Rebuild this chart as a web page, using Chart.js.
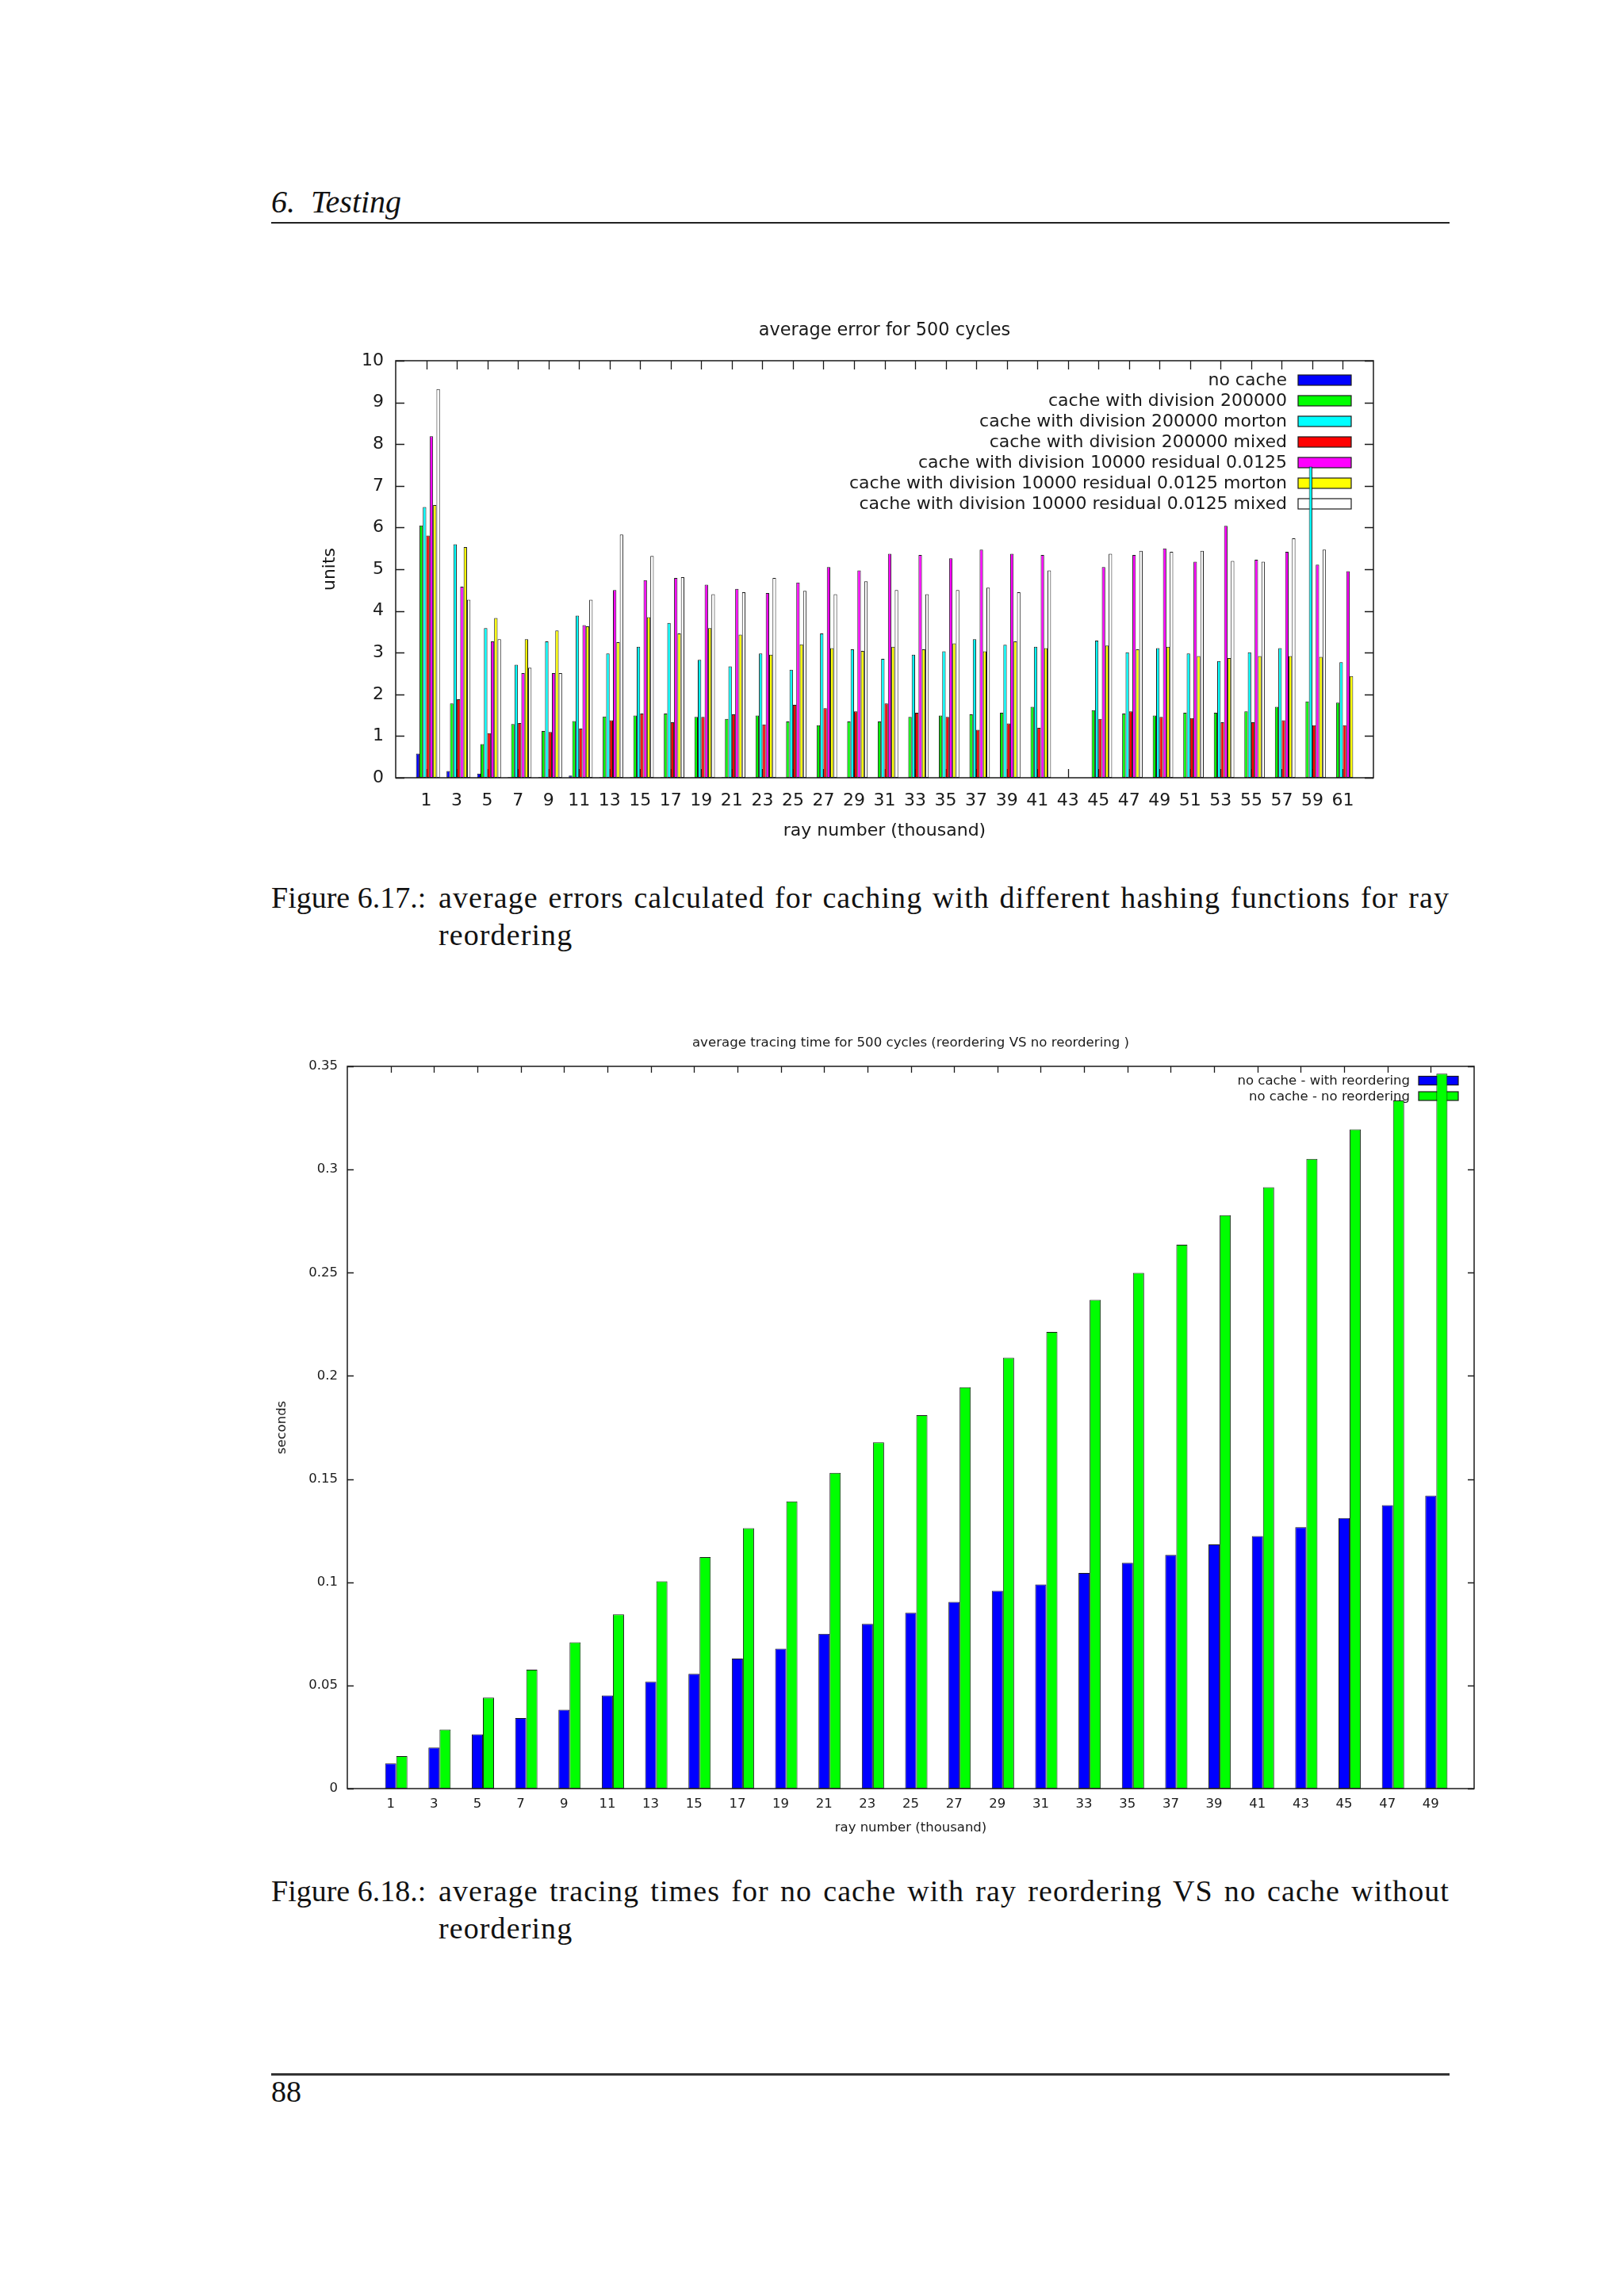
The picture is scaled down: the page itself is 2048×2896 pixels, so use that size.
<!DOCTYPE html>
<html>
<head>
<meta charset="utf-8">
<script src="https://cdn.jsdelivr.net/npm/chart.js@4.4.1/dist/chart.umd.min.js"></script>
<style>
  html, body { margin: 0; padding: 0; background: #fff; }
  body { width: 2048px; height: 2896px; position: relative; overflow: hidden; }
  .serif { font-family: "Liberation Serif", "DejaVu Serif", serif; color: #111; position: absolute; line-height: 1; white-space: nowrap; }
  .cap { letter-spacing: 1.1px; }
  .rule { position: absolute; left: 342px; width: 1486px; background: #222; }
  .line1 { position: absolute; left: 211px; top: 0; width: 1275px; text-align: justify; text-align-last: justify; letter-spacing: 1.1px; }
  .box { position: absolute; }
</style>
</head>
<body>
<div class="serif" style="left:342px; top:235px; font-size:40px; font-style:italic;">6.&nbsp; Testing</div>
<div class="rule" style="top:280px; height:2px;"></div>

<div class="box" style="left:380px; top:390px; width:1471px; height:690px;"><canvas id="errChart"></canvas></div>

<div class="serif" style="left:342px; top:1113px; font-size:38px; width:1486px;">Figure 6.17.:<span class="line1">average errors calculated for caching with different hashing functions for ray</span></div>
<div class="serif cap" style="left:553px; top:1160px; font-size:38px;">reordering</div>

<div class="box" style="left:320px; top:1290px; width:1657px; height:1040px;"><canvas id="timeChart"></canvas></div>

<div class="serif" style="left:342px; top:2366px; font-size:38px; width:1486px;">Figure 6.18.:<span class="line1">average tracing times for no cache with ray reordering VS no cache without</span></div>
<div class="serif cap" style="left:553px; top:2413px; font-size:38px;">reordering</div>

<div class="rule" style="top:2615px; height:3px; background:#333;"></div>
<div class="serif" style="left:342px; top:2619px; font-size:38px;">88</div>

<script>
// ---- figure 6.17: average error for 500 cycles ----
const rayNumbers1 = ['1','3','5','7','9','11','13','15','17','19','21','23','25','27','29','31',
  '33','35','37','39','41','43','45','47','49','51','53','55','57','59','61'];

const noCache      = [0.58,0.16,0.10,0.015,0.015,0.05,0.015,0.015,0.015,0.01,0.015,0.01,0,0,0,0,
  0,0,0,0,0,0,0,0,0,0,0,0,0,0,0];
const div200k      = [6.05,1.78,0.81,1.29,1.12,1.36,1.47,1.49,1.54,1.46,1.41,1.49,1.35,1.26,1.35,1.35,
  1.46,1.49,1.52,1.56,1.70,0,1.62,1.54,1.49,1.56,1.56,1.59,1.70,1.83,1.80];
const div200kMorton = [6.49,5.60,3.59,2.71,3.27,3.89,2.98,3.14,3.71,2.83,2.67,2.98,2.59,3.46,3.08,2.85,
  2.95,3.03,3.32,3.19,3.14,0,3.29,3.01,3.11,2.98,2.80,3.01,3.11,7.46,2.77];
const div200kMixed = [5.81,1.88,1.07,1.31,1.10,1.18,1.38,1.54,1.33,1.46,1.52,1.28,1.75,1.67,1.59,1.78,
  1.56,1.46,1.15,1.30,1.20,0,1.41,1.59,1.46,1.43,1.33,1.33,1.38,1.26,1.26];
const res10k       = [8.19,4.58,3.27,2.51,2.51,3.66,4.50,4.74,4.79,4.63,4.53,4.43,4.68,5.05,4.97,5.37,
  5.34,5.26,5.47,5.37,5.34,0,5.05,5.34,5.50,5.18,6.04,5.23,5.42,5.11,4.95];
const res10kMorton = [6.54,5.53,3.83,3.32,3.53,3.63,3.25,3.85,3.46,3.59,3.43,2.95,3.20,3.11,3.04,3.14,
  3.08,3.22,3.03,3.27,3.11,0,3.17,3.08,3.14,2.92,2.87,2.92,2.92,2.90,2.44];
const res10kMixed  = [9.32,4.27,3.32,2.64,2.51,4.27,5.83,5.32,4.81,4.40,4.45,4.79,4.48,4.40,4.71,4.50,
  4.40,4.50,4.56,4.45,4.97,0,5.37,5.44,5.42,5.44,5.20,5.18,5.74,5.47,0];

// ---- figure 6.18: average tracing time ----
const rayNumbers2 = ['1','3','5','7','9','11','13','15','17','19','21','23','25','27','29','31',
  '33','35','37','39','41','43','45','47','49'];
const withReordering = [0.0122,0.0199,0.0263,0.0342,0.0382,0.0451,0.0518,0.0556,0.0630,0.0678,0.0750,
  0.0798,0.0852,0.0905,0.0959,0.0989,0.1045,0.1094,0.1132,0.1183,0.1224,0.1267,0.1311,0.1374,0.1420];
const noReordering = [0.0158,0.0286,0.0441,0.0576,0.0709,0.0844,0.1005,0.1122,0.1262,0.1392,0.1530,
  0.1678,0.1810,0.1945,0.2088,0.2213,0.2369,0.2499,0.2636,0.2779,0.2914,0.3052,0.3195,0.3335,0.3465];

const ink = '#1a1a1a';
const fam = 'DejaVu Sans';

// gnuplot leaves one empty slot at each end of the x range
const pad = a => [null, ...a, null];
const padLabels = a => ['', ...a, ''];

// inward ticks on all four sides, key drawn under the bars, frame on top
const gnuplotLook = {
  id: 'gnuplotLook',
  beforeDatasetsDraw(chart, args, o) {
    const { ctx, chartArea: a, scales: { x, y } } = chart;
    ctx.save();
    ctx.strokeStyle = ink;
    ctx.lineWidth = 1.3;
    ctx.beginPath();
    y.ticks.forEach((t, i) => {
      const py = Math.round(y.getPixelForTick(i)) + 0.5;
      ctx.moveTo(a.left, py); ctx.lineTo(a.left + o.tick, py);
      ctx.moveTo(a.right, py); ctx.lineTo(a.right - o.tick, py);
    });
    x.ticks.forEach((t, i) => {
      if (!x.getLabelForValue(t.value)) return;
      const px = Math.round(x.getPixelForTick(i)) + 0.5;
      ctx.moveTo(px, a.top); ctx.lineTo(px, a.top + o.tick);
      ctx.moveTo(px, a.bottom); ctx.lineTo(px, a.bottom - o.tick);
    });
    ctx.stroke();

    // key
    ctx.font = o.font + 'px "' + fam + '"';
    ctx.textAlign = 'right';
    ctx.textBaseline = 'middle';
    let row = 0;
    chart.data.datasets.forEach(ds => {
      if (!ds.label) return;
      const cy = a.top + o.keyTop + row * o.keyStep;
      const bx = a.right - o.keyRight - o.keyW;
      ctx.fillStyle = ds.backgroundColor;
      ctx.fillRect(bx, cy - o.keyH / 2, o.keyW, o.keyH);
      ctx.lineWidth = 1.2;
      ctx.strokeRect(bx, cy - o.keyH / 2, o.keyW, o.keyH);
      ctx.fillStyle = ink;
      ctx.fillText(ds.label, bx - o.keyGap, cy + 1);
      row++;
    });
    ctx.restore();
  },
  afterDatasetsDraw(chart) {
    const { ctx, chartArea: a } = chart;
    ctx.save();
    ctx.strokeStyle = ink;
    ctx.lineWidth = 1.5;
    ctx.strokeRect(a.left, a.top, a.right - a.left, a.bottom - a.top);
    ctx.restore();
  }
};

function bar(label, data, color) {
  return { label, data: pad(data), backgroundColor: color, borderColor: ink, borderWidth: 1, borderSkipped: false };
}

// empty first slot so the group sits half a bar to the right of its tick, as gnuplot does
const spacer = { label: '', data: [], backgroundColor: 'rgba(0,0,0,0)' };

// blank right-hand axis, same width as the left one, so the title centres over the plot
const blankRight = w => ({
  position: 'right', display: true,
  grid: { display: false, drawTicks: false }, border: { display: false },
  ticks: { display: false },
  afterFit: s => { s.width = w; }
});

new Chart(document.getElementById('errChart'), {
  type: 'bar',
  data: {
    labels: padLabels(rayNumbers1),
    datasets: [
      spacer,
      bar('no cache', noCache, '#0000ff'),
      bar('cache with division 200000', div200k, '#00ff00'),
      bar('cache with division 200000 morton', div200kMorton, '#00ffff'),
      bar('cache with division 200000 mixed', div200kMixed, '#ff0000'),
      bar('cache with division 10000 residual 0.0125', res10k, '#ff00ff'),
      bar('cache with division 10000 residual 0.0125 morton', res10kMorton, '#ffff00'),
      bar('cache with division 10000 residual 0.0125 mixed', res10kMixed, '#ffffff')
    ]
  },
  options: {
    responsive: true, maintainAspectRatio: false, animation: false,
    categoryPercentage: 0.893, barPercentage: 1,
    layout: { padding: 0 },
    plugins: {
      legend: { display: false },
      tooltip: { enabled: false },
      title: { display: true, text: 'average error for 500 cycles', color: ink,
        font: { family: fam, size: 22.4, weight: 'normal' }, padding: { top: 14, bottom: 24.1 } },
      gnuplotLook: { tick: 11, font: 22, keyTop: 24.5, keyStep: 26, keyRight: 28, keyW: 67, keyH: 13, keyGap: 14 }
    },
    scales: {
      x: {
        offset: false,
        grid: { display: false, drawTicks: false }, border: { display: false },
        ticks: { autoSkip: false, maxRotation: 0, padding: 16, color: ink, font: { family: fam, size: 22 } },
        title: { display: true, text: 'ray number (thousand)', color: ink, font: { family: fam, size: 22 }, padding: { top: 0, bottom: 18.8 } },
        afterFit: s => { s.height = 99; }
      },
      y: {
        min: 0, max: 10,
        grid: { display: false, drawTicks: false }, border: { display: false },
        ticks: { stepSize: 1, padding: 15, color: ink, font: { family: fam, size: 22 } },
        title: { display: true, text: 'units', color: ink, font: { family: fam, size: 22 }, padding: { top: 22.8, bottom: 0 } },
        afterFit: s => { s.width = 119; }
      },
      yRight: blankRight(119)
    }
  },
  plugins: [gnuplotLook]
});

new Chart(document.getElementById('timeChart'), {
  type: 'bar',
  data: {
    labels: padLabels(rayNumbers2),
    datasets: [
      spacer,
      bar('no cache - with reordering', withReordering, '#0000ff'),
      bar('no cache - no reordering', noReordering, '#00ff00')
    ]
  },
  options: {
    responsive: true, maintainAspectRatio: false, animation: false,
    categoryPercentage: 0.77, barPercentage: 1,
    layout: { padding: 0 },
    plugins: {
      legend: { display: false },
      tooltip: { enabled: false },
      title: { display: true, text: 'average tracing time for 500 cycles (reordering VS no reordering )', color: ink,
        font: { family: fam, size: 16.6, weight: 'normal' }, padding: { top: 16, bottom: 19.1 } },
      gnuplotLook: { tick: 8, font: 16.5, keyTop: 18, keyStep: 19.5, keyRight: 20, keyW: 50, keyH: 11, keyGap: 11 }
    },
    scales: {
      x: {
        offset: false,
        grid: { display: false, drawTicks: false }, border: { display: false },
        ticks: { autoSkip: false, maxRotation: 0, padding: 10, color: ink, font: { family: fam, size: 16.5 } },
        title: { display: true, text: 'ray number (thousand)', color: ink, font: { family: fam, size: 16.5 }, padding: { top: 0, bottom: 14.1 } },
        afterFit: s => { s.height = 74; }
      },
      y: {
        min: 0, max: 0.35,
        grid: { display: false, drawTicks: false }, border: { display: false },
        ticks: { stepSize: 0.05, padding: 12, color: ink, font: { family: fam, size: 16.5 },
          callback: v => String(+v.toFixed(2)) },
        title: { display: true, text: 'seconds', color: ink, font: { family: fam, size: 16.5 }, padding: { top: 26.1, bottom: 0 } },
        afterFit: s => { s.width = 118; }
      },
      yRight: blankRight(118)
    }
  },
  plugins: [gnuplotLook]
});
</script>
</body>
</html>
